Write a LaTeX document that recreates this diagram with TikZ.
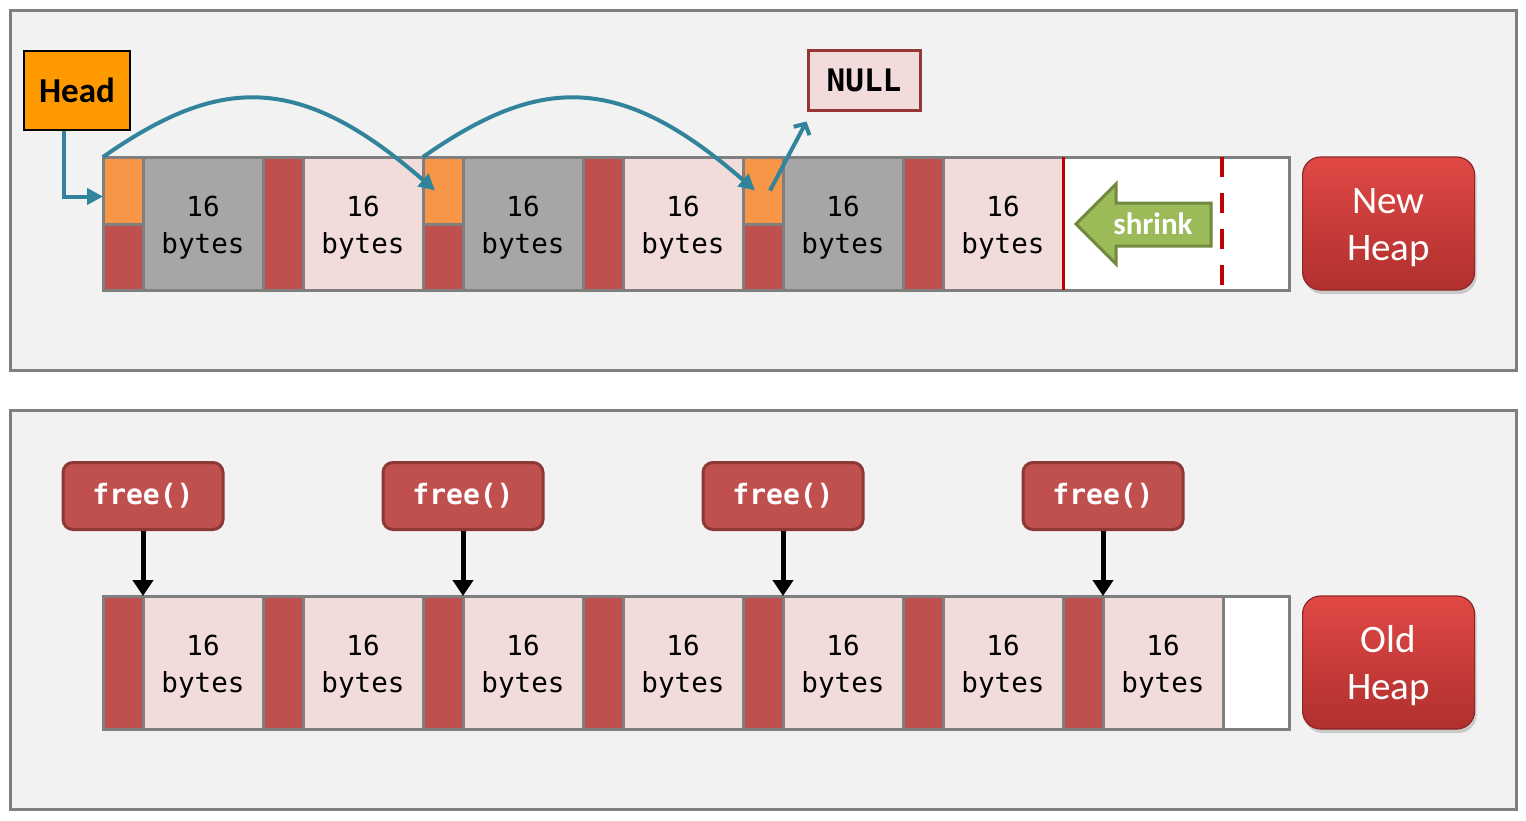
\documentclass[tikz,border=0pt]{standalone}
\usepackage{fontspec}
\setmainfont{Carlito}
\newfontfamily\codefont{DejaVu Sans Mono}
\usetikzlibrary{positioning,arrows.meta,shadows}

\definecolor{panelbg}{HTML}{F2F2F2}
\definecolor{edgegray}{HTML}{7F7F7F}
\definecolor{usedgray}{HTML}{A6A6A6}
\definecolor{freepink}{HTML}{F2DCDB}
\definecolor{hdrred}{HTML}{C0504D}
\definecolor{ptrorange}{HTML}{F79646}
\definecolor{headorange}{HTML}{FF9900}
\definecolor{linkteal}{HTML}{31849B}
\definecolor{nullred}{HTML}{953735}
\definecolor{cutred}{HTML}{C00000}
\definecolor{shrinkgreen}{HTML}{9BBB59}
\definecolor{shrinkedge}{HTML}{71893F}
\definecolor{btntop}{HTML}{E04845}
\definecolor{btnbot}{HTML}{B0302E}
\definecolor{freeedge}{HTML}{8C3836}

\tikzset{
  panel/.style={draw=edgegray,fill=panelbg,line width=1.5pt},
  heapbox/.style={draw=edgegray,fill=white,line width=1.5pt,minimum width=593pt,minimum height=66.5pt,inner sep=0pt,outer sep=0pt,anchor=north west},
  hdr/.style={draw=edgegray,fill=hdrred,line width=1.5pt,minimum width=20pt,minimum height=66.5pt,inner sep=0pt,outer sep=0pt,anchor=north west},
  ptr/.style={draw=edgegray,fill=ptrorange,line width=1.5pt,minimum width=20pt,minimum height=33.5pt,inner sep=0pt,outer sep=0pt,anchor=north west},
  cell/.style={draw=edgegray,line width=1.5pt,minimum width=60pt,minimum height=66.5pt,inner sep=0pt,outer sep=0pt,anchor=north west,align=center,font=\codefont\fontsize{13.8}{18.5}\selectfont},
  btn/.style={draw=btnbot!80!black,line width=0.6pt,rounded corners=9pt,top color=btntop,bottom color=btnbot,minimum width=86pt,minimum height=66.5pt,align=center,text=white,font=\fontsize{19.5}{23.5}\selectfont,drop shadow={opacity=0.35,shadow xshift=1pt,shadow yshift=-2pt}},
  freebox/.style={draw=freeedge,fill=hdrred,line width=1.5pt,rounded corners=5pt,minimum width=80pt,minimum height=33.5pt,text=white,font=\codefont\bfseries\fontsize{14}{16}\selectfont},
  headbox/.style={draw=black,fill=headorange,line width=1pt,minimum width=53pt,minimum height=39.5pt,font=\bfseries\fontsize{17.5}{20}\selectfont},
  nullbox/.style={draw=nullred,fill=freepink,line width=1.5pt,minimum width=56pt,minimum height=30pt,font=\codefont\bfseries\fontsize{15.5}{18}\selectfont},
  link/.style={draw=linkteal,line width=2pt,-{Triangle[length=8pt,width=8pt]}},
  call/.style={line width=2.5pt,-{Triangle[length=8pt,width=10pt]}},
  cutline/.style={draw=cutred,line width=1.5pt},
}
\newcommand\sixteen{\rule{0pt}{14pt}16\\bytes}

\begin{document}
\begin{tikzpicture}[x=0.5pt,y=-0.5pt]
  \useasboundingbox (0,0) rectangle (1526,820);

  % panels
  \draw[panel] (10,10) rectangle (1516,370);
  \draw[panel] (10,410) rectangle (1516,809);

  % new heap
  \node[heapbox] (newheap) at (103,157) {};
  \foreach \i/\c in {1/usedgray,2/freepink,3/usedgray,4/freepink,5/usedgray,6/freepink} {
    \node[hdr] (h\i) at ({103+160*(\i-1)},157) {};
    \node[cell,fill=\c] (d\i) at ({143+160*(\i-1)},157) {\sixteen};
  }
  \foreach \i in {1,3,5}
    \node[ptr] (p\i) at (h\i.north west) {};
  \node[btn,right=6.5pt of newheap] (newlbl) {\rule{0pt}{17pt}New\\Heap};

  % shrink
  \draw[cutline] (d6.north east) -- (d6.south east);
  \draw[cutline,line width=2pt,dash pattern=on 10pt off 8pt] (1222,157) -- (1222,290);
  \draw[draw=shrinkedge,fill=shrinkgreen,line width=1.5pt] (1076,224) -- (1116,184) -- (1116,203) -- (1211,203)
    -- (1211,246) -- (1116,246) -- (1116,264) -- cycle;
  \node[text=white,font=\bfseries\fontsize{15.5}{18}\selectfont] (shrink) at (1153,224) {shrink};

  % free list
  \node[headbox] (head) at (77,90.5) {Head};
  \node[nullbox] (null) at (864,80) {NULL};
  \draw[link] (head.south) ++(-13,0) |- ([yshift=-3pt]p1.west);
  \draw[link] (p1.north west) .. controls +(117,-82) and +(-135,-118) .. ([xshift=6pt]p3.west);
  \draw[link] (p3.north west) .. controls +(117,-82) and +(-135,-118) .. ([xshift=6pt]p5.west);
  \draw[draw=linkteal,line width=2pt,-{Straight Barb[length=4pt,width=9pt]}] ([xshift=3.5pt]p5.center) -- ([yshift=-5pt]null.south west);

  % old heap
  \node[heapbox] (oldheap) at (103,596) {};
  \foreach \i in {1,...,7} {
    \node[hdr] (oh\i) at ({103+160*(\i-1)},596) {};
    \node[cell,fill=freepink] (od\i) at ({143+160*(\i-1)},596) {\sixteen};
  }
  \node[btn,right=6.5pt of oldheap] (oldlbl) {\rule{0pt}{17pt}Old\\Heap};
  \foreach \i in {1,3,5,7} {
    \node[freebox,above=32.5pt of od\i.north west] (f\i) {free()};
    \draw[call] (f\i) -- (od\i.north west);
  }
\end{tikzpicture}
\end{document}
